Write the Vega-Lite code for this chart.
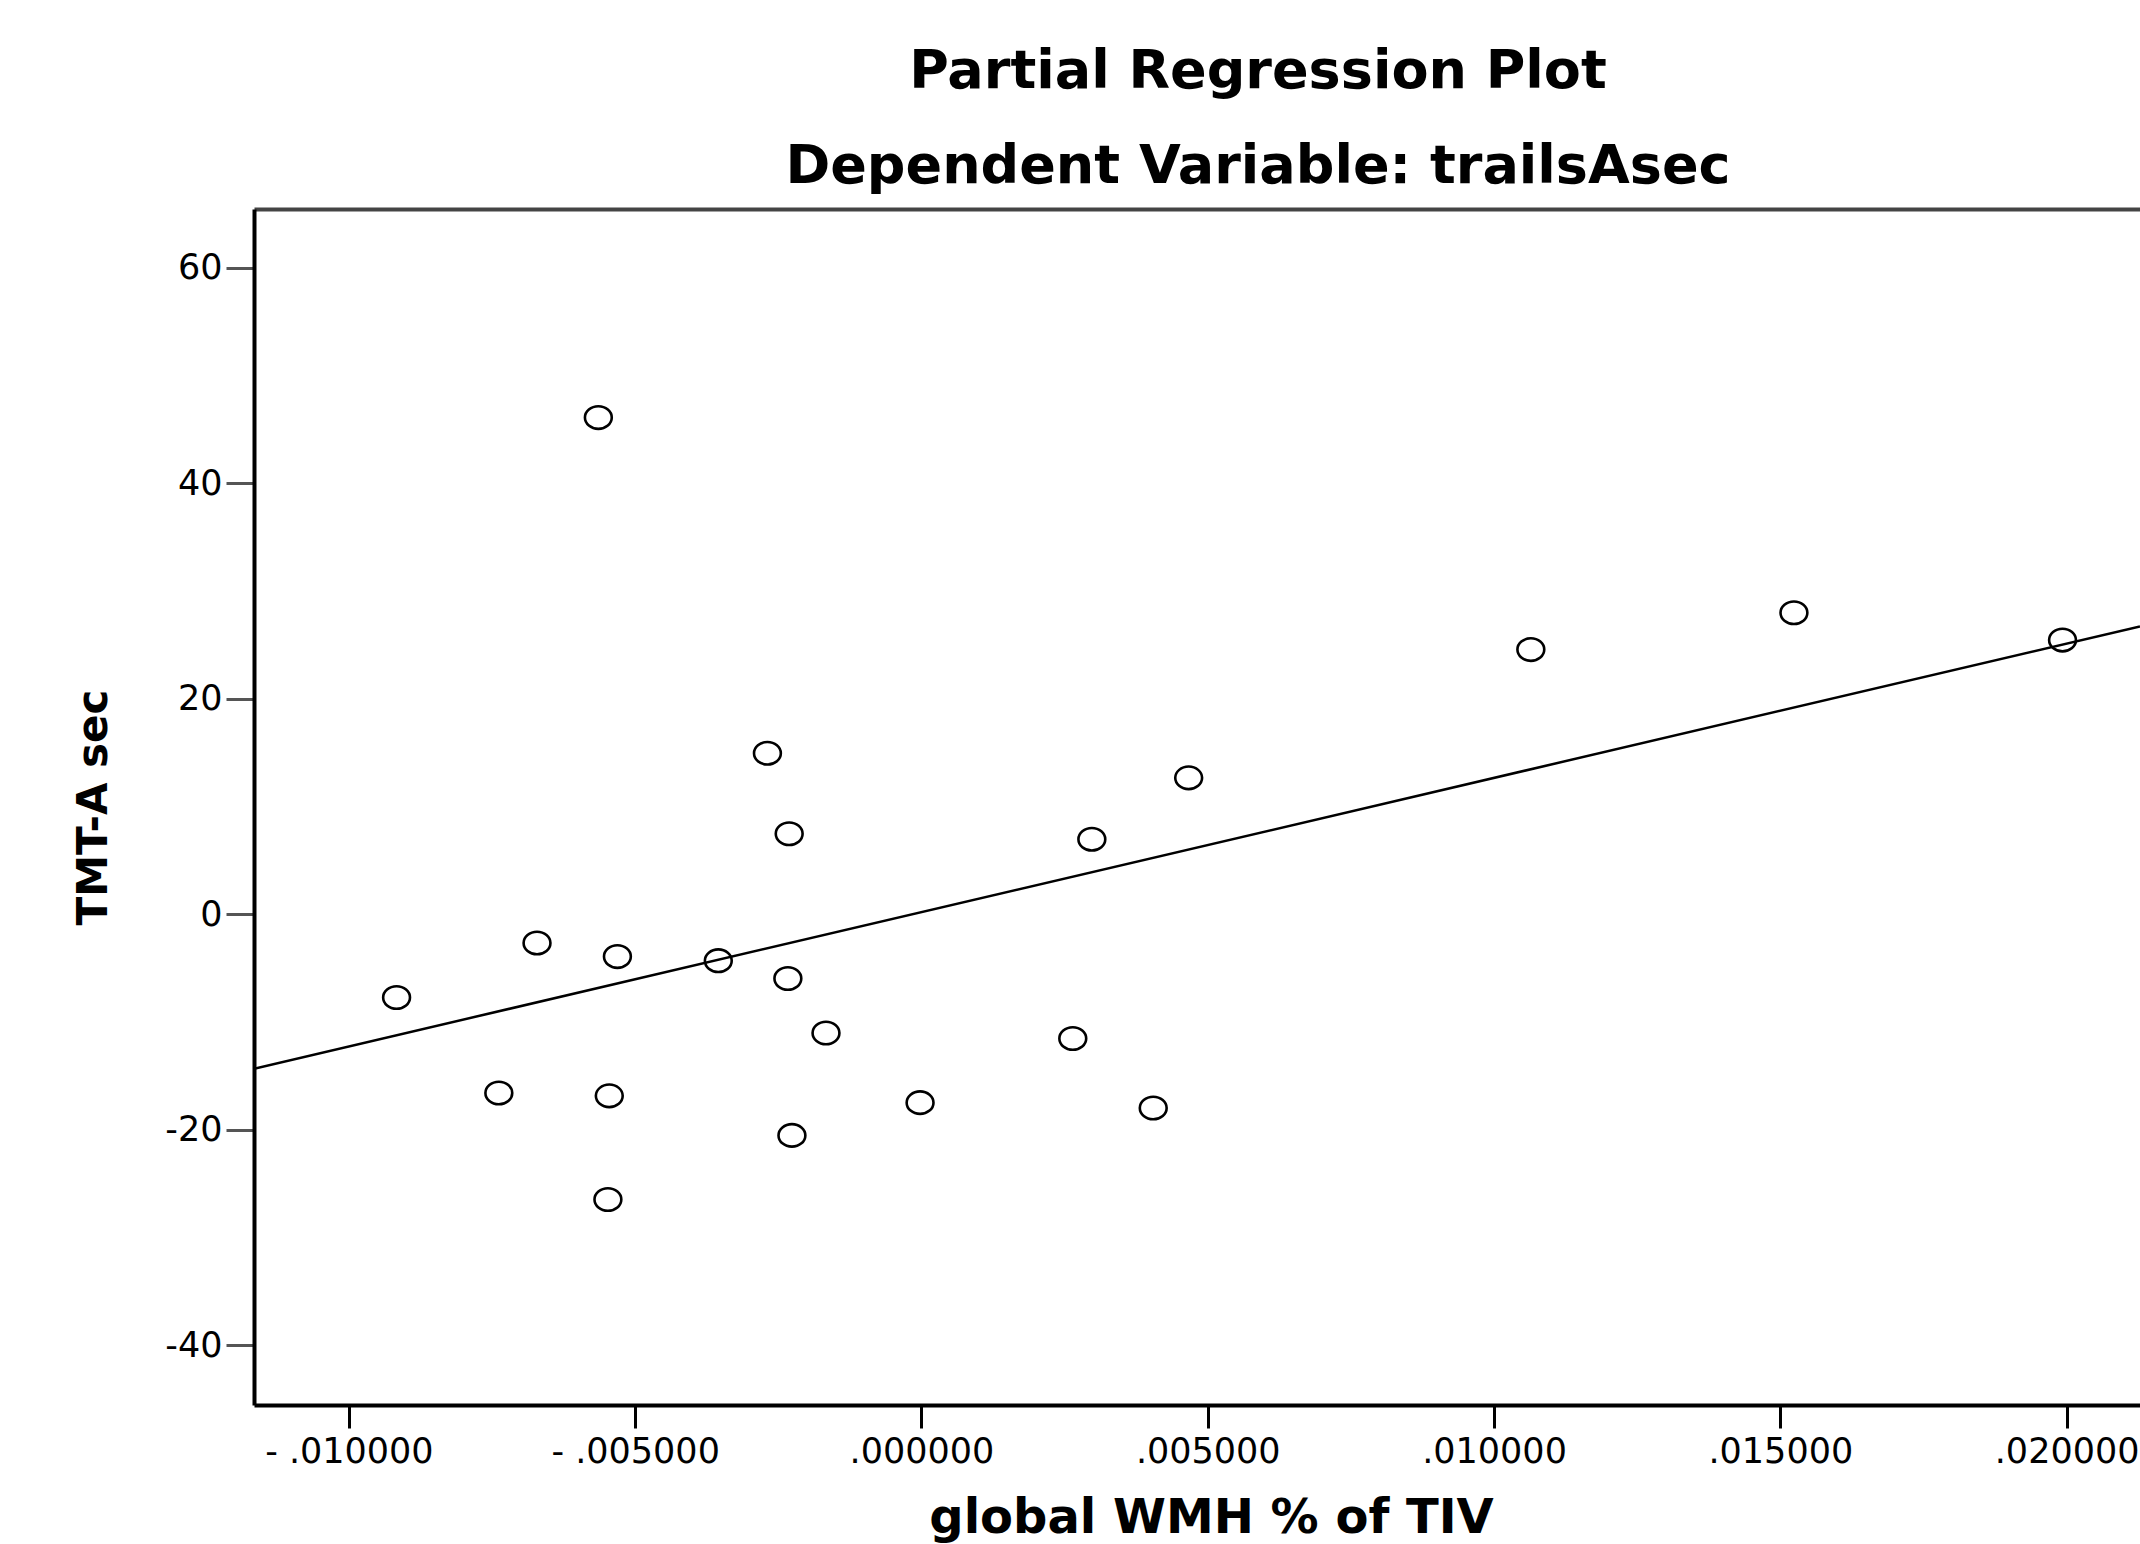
{
  "$schema": "https://vega.github.io/schema/vega-lite/v6.json",
  "width": 1886,
  "height": 1196,
  "autosize": {"type": "none"},
  "padding": {"left": 254, "top": 209, "right": 0, "bottom": 139},
  "background": "white",
  "title": {
    "text": ["Partial Regression Plot", "Dependent Variable: trailsAsec"],
    "font": "DejaVu Sans",
    "fontSize": 54,
    "fontWeight": "bold",
    "lineHeight": 95,
    "anchor": "middle",
    "dx": 61,
    "offset": 15,
    "color": "black"
  },
  "datasets": {
    "points": [
      {"x": -0.009167, "y": -7.72},
      {"x": -0.007381, "y": -16.58},
      {"x": -0.006714, "y": -2.66},
      {"x": -0.005643, "y": 46.08},
      {"x": -0.00531, "y": -3.92},
      {"x": -0.005452, "y": -16.84},
      {"x": -0.005476, "y": -26.46},
      {"x": -0.003548, "y": -4.30},
      {"x": -0.00269, "y": 14.94},
      {"x": -0.00231, "y": 7.47},
      {"x": -0.002333, "y": -5.95},
      {"x": -0.002262, "y": -20.51},
      {"x": -0.001667, "y": -11.01},
      {"x": -0.000024, "y": -17.47},
      {"x": 0.002643, "y": -11.52},
      {"x": 0.002976, "y": 6.96},
      {"x": 0.004048, "y": -17.97},
      {"x": 0.004667, "y": 12.66},
      {"x": 0.010643, "y": 24.56},
      {"x": 0.015238, "y": 27.97},
      {"x": 0.019929, "y": 25.44}
    ],
    "fit": [
      {"x": -0.011657, "y": -14.32},
      {"x": 0.021282, "y": 26.71}
    ]
  },
  "layer": [
    {
      "data": {"name": "fit"},
      "mark": {"type": "line", "color": "black", "strokeWidth": 2.5},
      "encoding": {
        "x": {
          "field": "x", "type": "quantitative",
          "scale": {"domain": [-0.011657, 0.021282], "nice": false, "zero": false},
          "axis": {"orient": "top", "ticks": false, "labels": false, "title": null, "domainColor": "#444444", "domainWidth": 4, "grid": false}
        },
        "y": {
          "field": "y", "type": "quantitative",
          "scale": {"domain": [-45.52, 65.43], "nice": false, "zero": false},
          "axis": {
            "title": "TMT-A sec",
            "values": [-40, -20, 0, 20, 40, 60],
            "labelExpr": "replace(format(datum.value, 'd'), '\u2212', '-')",
            "tickSize": 28, "tickColor": "#555555", "tickWidth": 3,
            "labelPadding": 4,
            "titleFontSize": 42,
            "titleX": -148, "titleY": 598,
            "titleAngle": 270,
            "titleBaseline": "alphabetic",
            "titleAlign": "center"
          }
        }
      }
    },
    {
      "data": {"name": "points"},
      "mark": {
        "type": "point",
        "shape": "M-1,0A1,0.84,0,1,0,1,0A1,0.84,0,1,0,-1,0Z",
        "filled": false,
        "color": "black",
        "stroke": "black",
        "strokeWidth": 2.6,
        "size": 720,
        "opacity": 1
      },
      "encoding": {
        "x": {
          "field": "x", "type": "quantitative",
          "scale": {"domain": [-0.011657, 0.021282], "nice": false, "zero": false},
          "axis": {
            "orient": "bottom",
            "title": "global WMH % of TIV",
            "values": [-0.01, -0.005, 0, 0.005, 0.01, 0.015, 0.02],
            "labelExpr": "replace(replace(format(datum.value, '.6f'), '\u2212', '- '), '0.', '.')",
            "tickSize": 23, "tickColor": "black", "tickWidth": 3,
            "labelPadding": 6,
            "labelFlush": false,
            "titleFontSize": 48,
            "titleX": 957, "titleY": 127,
            "titleBaseline": "alphabetic",
            "titleAlign": "center"
          }
        },
        "y": {
          "field": "y", "type": "quantitative",
          "scale": {"domain": [-45.52, 65.43], "nice": false, "zero": false},
          "axis": {
            "title": "TMT-A sec",
            "values": [-40, -20, 0, 20, 40, 60],
            "labelExpr": "replace(format(datum.value, 'd'), '\u2212', '-')",
            "tickSize": 28, "tickColor": "#555555", "tickWidth": 3,
            "labelPadding": 4,
            "titleFontSize": 42,
            "titleX": -148, "titleY": 598,
            "titleAngle": 270,
            "titleBaseline": "alphabetic",
            "titleAlign": "center"
          }
        }
      }
    }
  ],
  "resolve": {"axis": {"x": "independent"}},
  "config": {
    "view": {"stroke": null},
    "axis": {
      "grid": false,
      "labelFont": "DejaVu Sans",
      "labelFontSize": 35,
      "labelColor": "black",
      "titleFont": "DejaVu Sans",
      "titleFontWeight": "bold",
      "titleColor": "black",
      "domainColor": "black",
      "domainWidth": 4
    }
  }
}
